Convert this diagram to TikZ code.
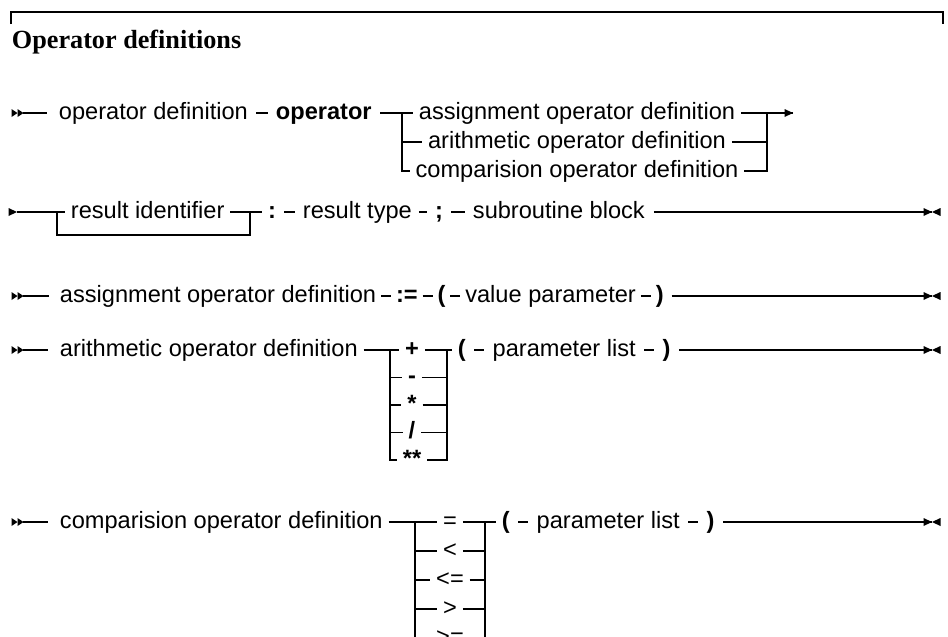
\documentclass[tikz,border=0pt]{standalone}
\usepackage{fontspec}
\setmainfont{Liberation Sans}
\newfontfamily\ttlserif{Liberation Serif}
\usetikzlibrary{positioning}
\newcommand\labfont{\fontsize{23.6}{28}\selectfont}
\newcommand\labbfont{\fontsize{23.6}{28}\selectfont\bfseries}
\newcommand\ttlfont{\ttlserif\fontsize{26.2}{30}\selectfont\bfseries}
\begin{document}
\begin{tikzpicture}[x=1pt,y=-1pt,line width=1.9pt,
  lbl/.style={inner xsep=5pt,inner ysep=0pt,text height=12pt,text depth=0pt,font=\labfont},
  lblb/.style={lbl,font=\labbfont},
  tight/.style={inner xsep=4pt},
  itemline/.style={shorten >=2.5pt,shorten <=2.5pt},
  startline/.style={shorten >=6pt},
  rtri/.pic={\fill (0,0) -- (-8.5,-4) -- (-8.5,4) -- cycle;},
  ltri/.pic={\fill (0,0) -- (8.5,-4) -- (8.5,4) -- cycle;},
  stri/.pic={\fill (0,0) -- (-6,-4) -- (-6,4) -- cycle;}]
\useasboundingbox (0,0) rectangle (948,637);
% frame and title
\coordinate (fl) at (11,24); \coordinate (flt) at (11,12);
\coordinate (frt) at (943,12); \coordinate (fr) at (943,24);
\draw (fl) -- (flt) -- (frt) -- (fr);
\node[anchor=base west,inner sep=0pt,font=\ttlfont] (title) at (11,48) {Operator definitions};

% ---------- Row 1 ----------
\pic at (17.5,113) {stri}; \pic at (23.5,113) {stri};
\coordinate (s1) at (23,113);
\node[lbl,anchor=west] (od) at (53,113) {operator definition};
\node[lblb,anchor=west] (op) at (270,113) {operator};
\coordinate (b1l) at (402,113);
\coordinate (b1r) at (767,113);
\node[lbl] (a1) at (577,113) {assignment operator definition};
\node[lbl] (a2) at (577,142) {arithmetic operator definition};
\node[lbl] (a3) at (577,171) {comparision operator definition};
\coordinate (e1) at (793,113);
\draw[startline] (s1) -- (od);
\draw[itemline] (od) -- (op);
\draw[shorten <=2.5pt] (op) -- (b1l) -- (a1);
\draw (b1l |- a2) -- (a2);
\draw (b1l) |- (a3);
\draw (a1) -- (b1r) -- (e1);
\draw (a2) -- (b1r |- a2);
\draw (a3) -| (b1r);
\pic at (e1) {rtri};

% ---------- Row 2 ----------
\pic at (17,212) {rtri};
\coordinate (s2) at (17,212);
\coordinate (l2) at (57,212); \coordinate (l2b) at (57,235);
\coordinate (r2) at (250,212);
\node[lbl,anchor=west] (ri) at (65,212) {result identifier};
\node[lblb] (colon) at (272,212) {:};
\node[lbl,anchor=west] (rt) at (297,212) {result type};
\node[lblb] (semi) at (439,212) {;};
\node[lbl,anchor=west] (sb) at (467,212) {subroutine block};
\coordinate (e2) at (932,212);
\draw (s2) -- (l2) -- (ri);
\draw (ri) -- (r2) -- (colon);
\draw (l2) -- (l2b) -| (r2);
\draw[itemline] (colon) -- (rt);
\draw[shorten <=1pt,shorten >=2pt] (rt) -- (semi);
\draw[itemline] (semi) -- (sb);
\draw[shorten <=3pt] (sb) -- (e2);
\pic at (e2) {rtri}; \pic at (e2) {ltri};

% ---------- Row 3 ----------
\pic at (17.5,296) {stri}; \pic at (23.5,296) {stri};
\coordinate (s3) at (23,296);
\node[lbl,tight,anchor=west] (ad) at (55,296) {assignment operator definition};
\node[lblb,tight,right=10pt of ad] (as) {:=};
\node[lblb,tight,right=10pt of as] (lp3) {(};
\node[lbl,tight,right=10pt of lp3] (vp) {value parameter};
\node[lblb,tight,right=10pt of vp] (rp3) {)};
\coordinate (e3) at (932,296);
\draw[startline] (s3) -- (ad);
\draw (ad) -- (as);
\draw (as) -- (lp3);
\draw (lp3) -- (vp);
\draw (vp) -- (rp3);
\draw[shorten <=3pt] (rp3) -- (e3);
\pic at (e3) {rtri}; \pic at (e3) {ltri};

% ---------- Row 4 ----------
\pic at (17.5,350) {stri}; \pic at (23.5,350) {stri};
\coordinate (s4) at (23,350);
\node[lbl,anchor=west] (ar) at (54,350) {arithmetic operator definition};
\coordinate (b4l) at (390,350);
\coordinate (b4r) at (447,350);
\node[lblb] (plus) at (412,350) {+};
\node[lblb] (minus) at (412,377.5) {-};
\node[lblb] (times) at (412,405) {*};
\node[lblb] (divi) at (412,432.5) {/};
\node[lblb] (powr) at (412,460) {**};
\node[lblb,anchor=west] (lp4) at (452,350) {(};
\node[lbl,right=15pt of lp4] (pl4) {parameter list};
\node[lblb,right=15pt of pl4] (rp4) {)};
\coordinate (e4) at (932,350);
\draw[startline] (s4) -- (ar);
\draw (ar) -- (b4l) -- (plus);
\draw (plus) -- (b4r) -- (lp4);
\foreach \n in {minus,times,divi} {
  \draw (b4l |- \n) -- (\n);
  \draw (\n) -- (b4r |- \n);
}
\draw (b4l) |- (powr);
\draw (powr) -| (b4r);
\draw[itemline] (lp4) -- (pl4);
\draw[itemline] (pl4) -- (rp4);
\draw[shorten <=3pt] (rp4) -- (e4);
\pic at (e4) {rtri}; \pic at (e4) {ltri};

% ---------- Row 5 ----------
\pic at (17.5,522) {stri}; \pic at (23.5,522) {stri};
\coordinate (s5) at (23,522);
\node[lbl,anchor=west] (cp) at (54,522) {comparision operator definition};
\coordinate (b5l) at (415,522);
\coordinate (b5r) at (485,522);
\node[lbl] (eq) at (450,522) {=};
\node[lbl] (lt) at (450,551) {<};
\node[lbl] (le) at (450,580) {<=};
\node[lbl] (gt) at (450,609) {>};
\node[lbl] (ge) at (450,638) {>=};
\node[lblb,anchor=west] (lp5) at (496,522) {(};
\node[lbl,right=15pt of lp5] (pl5) {parameter list};
\node[lblb,right=15pt of pl5] (rp5) {)};
\coordinate (e5) at (932,522);
\draw[startline] (s5) -- (cp);
\draw (cp) -- (b5l) -- (eq);
\draw (eq) -- (b5r) -- (lp5);
\foreach \n in {lt,le,gt} {
  \draw (b5l |- \n) -- (\n);
  \draw (\n) -- (b5r |- \n);
}
\draw (b5l) |- (ge);
\draw (ge) -| (b5r);
\draw[itemline] (lp5) -- (pl5);
\draw[itemline] (pl5) -- (rp5);
\draw[shorten <=3pt] (rp5) -- (e5);
\pic at (e5) {rtri}; \pic at (e5) {ltri};
\end{tikzpicture}
\end{document}
